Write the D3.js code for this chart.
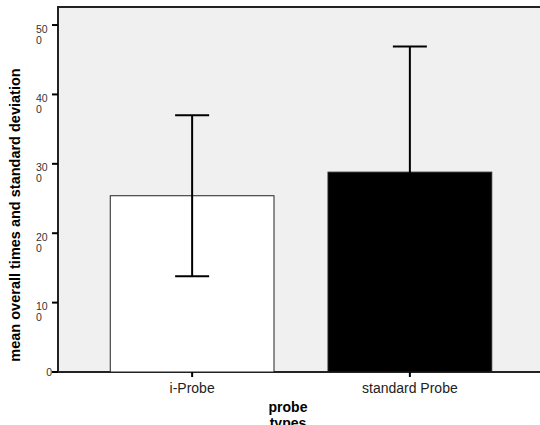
<!DOCTYPE html>
<html>
<head>
<meta charset="utf-8">
<script src="https://cdn.jsdelivr.net/npm/d3@7"></script>
<style>
  body { margin: 0; background: #fff; }
  svg { display: block; font-family: "Liberation Sans", Arial, sans-serif; }
</style>
</head>
<body>
<div id="chart"></div>
<script>
// data
var categories = ["i-Probe", "standard Probe"];
var means      = [254, 288];
var sds        = [116, 181];
var barFills   = ["#ffffff", "#000000"];
var yTicks      = [0, 100, 200, 300, 400, 500];
var yTickLabels = [["0"], ["10", "0"], ["20", "0"], ["30", "0"], ["40", "0"], ["50", "0"]];

(function() {
var W = 540, H = 425,
    pl = 58, pt = 7, pb = 372, pr = 544;

var svg = d3.select("#chart").append("svg")
      .attr("width", W)
      .attr("height", H);

var x = d3.scaleBand()
      .domain(categories)
      .range([pl, pr])
      .paddingInner(0.248)
      .paddingOuter(0.24);

var y = d3.scaleLinear()
      .domain([0, 526])
      .range([pb, pt]);

/* plot background */
svg.append("rect")
  .attr("x", pl)
  .attr("y", pt)
  .attr("width", W - pl + 5)
  .attr("height", pb - pt)
  .style("fill", "#f0f0f0")
  .style("stroke", "#222")
  .style("stroke-width", 2);

/* bars */
svg.selectAll(".bar")
  .data(categories)
  .enter().append("rect")
  .attr("class", "bar")
  .attr("x", function(d) { return x(d); })
  .attr("y", function(d, i) { return y(means[i]); })
  .attr("width", x.bandwidth())
  .attr("height", function(d, i) { return pb - y(means[i]); })
  .style("fill", function(d, i) { return barFills[i]; })
  .style("stroke", "#222")
  .style("stroke-width", 1);

/* error bars */
var cx = function(d) { return x(d) + x.bandwidth() / 2; };

svg.selectAll(".whisker")
  .data(categories)
  .enter().append("line")
  .attr("class", "whisker")
  .attr("x1", cx)
  .attr("x2", cx)
  .attr("y1", function(d, i) { return y(means[i] - sds[i]); })
  .attr("y2", function(d, i) { return y(means[i] + sds[i]); })
  .style("stroke", "#000")
  .style("stroke-width", 2);

[-1, 1].forEach(function(s) {
  svg.selectAll(".cap" + (s + 1))
    .data(categories)
    .enter().append("line")
    .attr("class", "cap" + (s + 1))
    .attr("x1", function(d) { return cx(d) - 17; })
    .attr("x2", function(d) { return cx(d) + 17; })
    .attr("y1", function(d, i) { return y(means[i] + s * sds[i]); })
    .attr("y2", function(d, i) { return y(means[i] + s * sds[i]); })
    .style("stroke", "#000")
    .style("stroke-width", 2);
});

/* y axis ticks and wrapped labels */
svg.selectAll(".ytick")
  .data(yTicks)
  .enter().append("line")
  .attr("class", "ytick")
  .attr("x1", pl - 6)
  .attr("x2", pl)
  .attr("y1", y)
  .attr("y2", y)
  .style("stroke", "#000")
  .style("stroke-width", 2);

var ylab = svg.selectAll(".ylabel")
  .data(yTicks)
  .enter().append("text")
  .attr("class", "ylabel")
  .style("font-size", "10.5px")
  .style("fill", "#333");

ylab.each(function(d, i) {
  var t = d3.select(this), lines = yTickLabels[i];
  if (lines.length == 1) {
    t.attr("x", pl - 6).attr("y", y(d) + 4).attr("text-anchor", "end").text(lines[0]);
  } else {
    lines.forEach(function(l, j) {
      t.append("tspan")
        .attr("x", 36)
        .attr("y", y(d) + 7.5 + j * 11)
        .text(l);
    });
  }
});

/* x axis ticks and labels */
svg.selectAll(".xtick")
  .data(categories)
  .enter().append("line")
  .attr("class", "xtick")
  .attr("x1", cx)
  .attr("x2", cx)
  .attr("y1", pb)
  .attr("y2", pb + 5)
  .style("stroke", "#000")
  .style("stroke-width", 2);

svg.selectAll(".xlabel")
  .data(categories)
  .enter().append("text")
  .attr("class", "xlabel")
  .attr("x", cx)
  .attr("y", 392.5)
  .attr("text-anchor", "middle")
  .style("font-size", "14px")
  .style("fill", "#222")
  .text(function(d) { return d; });

/* axis titles */
var xt = svg.append("text")
  .attr("text-anchor", "middle")
  .style("font-size", "14px")
  .style("font-weight", "bold");
xt.append("tspan").attr("x", 288).attr("y", 411.5).text("probe");
xt.append("tspan").attr("x", 288).attr("y", 428).text("types");

svg.append("text")
  .attr("transform", "translate(20,215) rotate(-90)")
  .attr("text-anchor", "middle")
  .style("font-size", "14.5px")
  .style("font-weight", "bold")
  .text("mean overall times and standard deviation");
})();
</script>
</body>
</html>
